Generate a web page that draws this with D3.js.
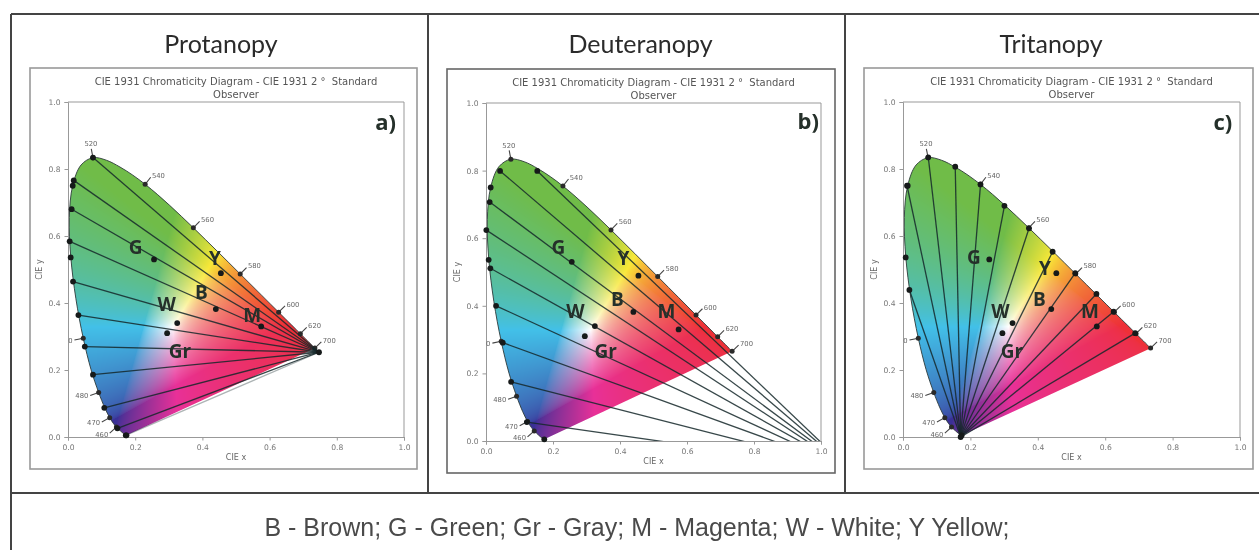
<!DOCTYPE html>
<html>
<head>
<meta charset="utf-8">
<style>
  html, body { margin: 0; padding: 0; background: #fff; overflow: hidden; }
  svg { display: block; }
  .heading { font-family: Lato, sans-serif; font-size: 25px; fill: #2b2b2b; text-anchor: middle; filter: blur(0.3px); }
  .fig-title { font-family: "DejaVu Sans", sans-serif; font-size: 10px; fill: #555; text-anchor: middle; }
  .axis-label { font-family: "DejaVu Sans", sans-serif; font-size: 8px; fill: #666; text-anchor: middle; }
  .axis text { font-family: "DejaVu Sans", sans-serif; font-size: 7.6px; fill: #777; }
  .axis path, .axis line { stroke: #999; stroke-width: 1; }
  .wave-label { font-family: "DejaVu Sans", sans-serif; font-size: 6.8px; fill: #666; }
  .color-label { font-family: "Open Sans", sans-serif; font-weight: 700; font-size: 19px; fill: #25302a; text-anchor: middle; dominant-baseline: central; }
  .panel-tag { font-family: "Open Sans", sans-serif; font-weight: 700; font-size: 22px; fill: #25302a; text-anchor: middle; dominant-baseline: central; }
  .legend { font-family: "Liberation Sans", sans-serif; font-size: 25px; fill: #4a4a4a; text-anchor: middle; filter: blur(0.3px); }
</style>
</head>
<body>
<div id="chart"></div>
<script src="https://cdn.jsdelivr.net/npm/d3@7"></script>
<script>
// CIE 1931 spectral locus, [wavelength, x, y]
var locus = [
  [380,.1741,.0050],[400,.1733,.0048],[420,.1714,.0051],[430,.1689,.0069],[440,.1644,.0109],
  [450,.1566,.0177],[455,.1510,.0227],[460,.1440,.0297],[465,.1355,.0399],[470,.1241,.0578],
  [475,.1096,.0868],[480,.0913,.1327],[485,.0687,.2007],[490,.0454,.2950],[495,.0235,.4127],
  [500,.0082,.5384],[505,.0039,.6548],[510,.0139,.7502],[515,.0389,.8120],[520,.0743,.8338],
  [525,.1142,.8262],[530,.1547,.8059],[535,.1929,.7816],[540,.2296,.7543],[545,.2658,.7243],
  [550,.3016,.6923],[555,.3373,.6589],[560,.3731,.6245],[565,.4087,.5896],[570,.4441,.5547],
  [575,.4788,.5202],[580,.5125,.4866],[585,.5448,.4544],[590,.5752,.4242],[595,.6029,.3965],
  [600,.6270,.3725],[605,.6482,.3514],[610,.6658,.3340],[615,.6801,.3197],[620,.6915,.3083],
  [630,.7079,.2920],[640,.7190,.2809],[650,.7260,.2740],[660,.7300,.2700],[680,.7334,.2666],
  [700,.7347,.2653]
];

var wave_marks  = [460, 470, 480, 490, 520, 540, 560, 580, 600, 620, 700];
var wave_texts  = ['460', '470', '480', '0', '520', '540', '560', '580', '600', '620', '700'];
var extra_dots  = [[.014, .75], [.008, .536], [.174, .005]];
var axis_ticks  = [0, .2, .4, .6, .8, 1];

var names       = ['Protanopy', 'Deuteranopy', 'Tritanopy'];
var tags        = ['a)', 'b)', 'c)'];
var color_names = ['G', 'Y', 'B', 'W', 'M', 'Gr'];
var color_xy    = [[.256, .53], [.455, .489], [.44, .382], [.325, .34], [.575, .33], [.295, .31]];

var legend_text = 'B - Brown; G - Green; Gr - Gray; M - Magenta; W - White; Y Yellow;';

var copunctal = [[.747, .253], [1.08, -.08], [.171, 0]];

var prot_starts = [[.0744,.834],[.017,.766],[.0108,.68],[.005,.584],[.015,.464],[.031,.364],[.05,.27],[.0744,.186],[.108,.087],[.147,.026],[.172,.005]];
var deut_starts = [[.153,.799],[.042,.799],[.011,.707],[.001,.624],[.013,.511],[.03,.4],[.05,.291],[.075,.175],[.122,.056]];
var trit_starts = [[.012,.75],[.075,.835],[.155,.807],[.23,.754],[.301,.69],[.374,.623],[.444,.553],[.511,.489],[.574,.427],[.625,.374],[.689,.31],[.019,.439]];

var prot_label_xy = [[.201,.566],[.4375,.535],[.397,.433],[.294,.397],[.548,.364],[.333,.257]];
var deut_label_xy = [[.216,.573],[.41,.542],[.392,.421],[.267,.386],[.539,.386],[.357,.266]];
var trit_label_xy = [[.21,.536],[.421,.504],[.405,.412],[.289,.377],[.555,.377],[.323,.257]];
var tag_xy        = [[.945,.943],[.962,.95],[.949,.944]];

// the printed figure looks like sRGB pushed through CMYK, these are the cube corners as they read in the picture
var corner_colors = {
  k: [40, 40, 50],    r: [238, 48, 56],  g: [112, 188, 72],  b: [58, 48, 150],
  c: [66, 192, 232],  m: [232, 48, 152], y: [248, 232, 56],  w: [255, 255, 255]
};

function chroma_rgb(x, y) {
  var X = x / y, Z = (1 - x - y) / y;
  var lin = [
     3.2406 * X - 1.5372 - 0.4986 * Z,
    -0.9689 * X + 1.8758 + 0.0415 * Z,
     0.0557 * X - 0.2040 + 1.0570 * Z
  ].map((v) => Math.max(v, 0));

  var m = d3.max(lin);
  var r = lin[0] / m, g = lin[1] / m, b = lin[2] / m;

  // ramps in the picture do not share one gamma: flat towards green/orange, steep towards blue/magenta
  var t = [
    Math.pow(r, 1 / (1.2 + .3 * b)),
    Math.pow(g, 1 / (1.2 + b * (1 - r))),
    Math.pow(b, 1 / (1.15 + 1.25 * r * (1 - g)))
  ];

  var c = corner_colors;
  return [0, 1, 2].map((i) => {
    var r0 = c.k[i] * (1 - t[0]) + c.r[i] * t[0];
    var r1 = c.g[i] * (1 - t[0]) + c.y[i] * t[0];
    var r2 = c.b[i] * (1 - t[0]) + c.m[i] * t[0];
    var r3 = c.c[i] * (1 - t[0]) + c.w[i] * t[0];
    var g0 = r0 * (1 - t[1]) + r1 * t[1];
    var g1 = r2 * (1 - t[1]) + r3 * t[1];
    return g0 * (1 - t[2]) + g1 * t[2];
  });
}

function color_field(x, y) {
  var w = Math.round(x.range()[1] - x.range()[0]);
  var h = Math.round(y.range()[0] - y.range()[1]);

  var canvas = document.createElement('canvas');
  canvas.width = w;
  canvas.height = h;

  var ctx = canvas.getContext('2d');
  var img = ctx.createImageData(w, h);

  for (var j = 0; j < h; j++) {
    for (var i = 0; i < w; i++) {
      var p = (j * w + i) * 4;
      var cx = x.invert(x.range()[0] + i + .5);
      var cy = Math.max(y.invert(y.range()[1] + j + .5), .001);
      var rgb = chroma_rgb(cx, cy);
      img.data[p] = rgb[0];
      img.data[p + 1] = rgb[1];
      img.data[p + 2] = rgb[2];
      img.data[p + 3] = 255;
    }
  }

  ctx.putImageData(img, 0, 0);
  return canvas.toDataURL();
}

var svg = d3.select('#chart').append('svg')
  .attr('width', 1259)
  .attr('height', 550);

var frame = svg.append('g')
  .attr('stroke', '#444')
  .attr('stroke-width', 2);

[[11, 14, 1259, 14], [11, 493, 1259, 493], [11, 14, 11, 550], [428, 14, 428, 493], [845, 14, 845, 493]].forEach((l) => {
  frame.append('line')
    .attr('x1', l[0]).attr('y1', l[1])
    .attr('x2', l[2]).attr('y2', l[3]);
});

svg.append('text')
  .attr('class', 'legend')
  .attr('x', 637)
  .attr('y', 536)
  .text(legend_text);

function panel_draw(o) {
  var x = d3.scaleLinear().domain([0, 1]).range([o.left, o.right]);
  var y = d3.scaleLinear().domain([0, 1]).range([o.bottom, o.top]);

  svg.append('text')
    .attr('class', 'heading')
    .attr('x', o.heading_x)
    .attr('y', 53)
    .text(o.name);

  var gph = svg.append('g')
    .style('filter', 'blur(0.6px)');

  gph.append('rect')
    .attr('x', o.box[0])
    .attr('y', o.box[1])
    .attr('width', o.box[2] - o.box[0])
    .attr('height', o.box[3] - o.box[1])
    .attr('fill', '#fff')
    .attr('stroke', o.box_color)
    .attr('stroke-width', 1.6);

  var cx = (o.left + o.right) / 2;

  gph.append('text').attr('class', 'fig-title').attr('x', cx).attr('y', o.top - 17)
    .text('CIE 1931 Chromaticity Diagram - CIE 1931 2 \u00b0\u00a0 Standard');
  gph.append('text').attr('class', 'fig-title').attr('x', cx).attr('y', o.top - 4)
    .text('Observer');

  gph.append('text').attr('class', 'axis-label').attr('x', cx).attr('y', o.bottom + 23)
    .text('CIE x');
  gph.append('text').attr('class', 'axis-label')
    .attr('transform', `translate(${ o.left - 26 },${ (o.top + o.bottom) / 2 }) rotate(-90)`)
    .text('CIE y');

  var line = d3.line().x((d) => x(d[0])).y((d) => y(d[1]));
  var smooth = d3.line().x((d) => x(d[0])).y((d) => y(d[1])).curve(d3.curveCatmullRom);
  var curve = locus.map((d) => [d[1], d[2]]);

  var clip_id = 'locus-' + o.id;
  var axes_id = 'axes-' + o.id;

  var defs = gph.append('defs');
  defs.append('clipPath').attr('id', clip_id)
    .append('path').attr('d', smooth(curve) + 'Z');
  defs.append('clipPath').attr('id', axes_id)
    .append('rect')
    .attr('x', x(0)).attr('y', y(1))
    .attr('width', x(1) - x(0)).attr('height', y(0) - y(1));

  gph.append('image')
    .attr('x', x(0))
    .attr('y', y(1))
    .attr('width', x(1) - x(0))
    .attr('height', y(0) - y(1))
    .attr('preserveAspectRatio', 'none')
    .attr('href', color_field(x, y))
    .attr('clip-path', `url(#${clip_id})`);

  gph.append('path')
    .attr('d', smooth(curve))
    .attr('fill', 'none')
    .attr('stroke', '#2c3a3a')
    .attr('stroke-width', .9);

  // axes, spines on all four sides
  var ax = d3.axisBottom(x).tickValues(axis_ticks).tickFormat(d3.format('.1f')).tickSize(3.5).tickPadding(4);
  var ay = d3.axisLeft(y).tickValues(axis_ticks).tickFormat(d3.format('.1f')).tickSize(3.5).tickPadding(4);

  gph.append('g').attr('class', 'axis').attr('transform', `translate(0,${o.bottom})`).call(ax);
  gph.append('g').attr('class', 'axis').attr('transform', `translate(${o.left},0)`).call(ay);

  gph.append('path')
    .attr('d', line([[0, 1], [1, 1], [1, 0]]))
    .attr('fill', 'none')
    .attr('stroke', '#999');

  // wavelength ticks, pointing out of the locus
  wave_marks.forEach((w, i) => {
    var k = locus.findIndex((d) => d[0] === w);
    var a = locus[Math.max(k - 1, 0)];
    var b = locus[Math.min(k + 1, locus.length - 1)];
    var px = x(locus[k][1]), py = y(locus[k][2]);
    var tx = x(b[1]) - x(a[1]), ty = y(b[2]) - y(a[2]);
    var len = Math.hypot(tx, ty);
    // walking up the wavelengths keeps the outside on the left
    var nx = ty / len, ny = -tx / len;

    if (w === 700) { nx = .72; ny = -.69; }

    gph.append('line')
      .attr('x1', px).attr('y1', py)
      .attr('x2', px + nx * 9).attr('y2', py + ny * 9)
      .attr('stroke', '#444')
      .attr('stroke-width', 1.1);

    gph.append('circle')
      .attr('cx', px).attr('cy', py).attr('r', 2.5)
      .attr('fill', '#2a2a2a');

    gph.append('text')
      .attr('class', 'wave-label')
      .attr('x', px + nx * 11)
      .attr('y', py + ny * 11 - (Math.abs(nx) < .4 ? 3 : 0))
      .attr('dy', '.32em')
      .attr('text-anchor', nx > .4 ? 'start' : (nx < -.4 ? 'end' : 'middle'))
      .text(wave_texts[i]);
  });

  // confusion lines, the protan one along the purple edge is barely there
  var lines = gph.append('g').attr('clip-path', `url(#${axes_id})`);

  o.starts.forEach((s, i) => {
    lines.append('path')
      .attr('d', line([s, o.copunctal]))
      .attr('stroke', '#15282a')
      .attr('stroke-opacity', i === o.faint ? .35 : .85)
      .attr('stroke-width', 1.3);
  });

  var dots = o.starts.concat(extra_dots).concat(color_xy);

  if (o.show_copunctal) dots = dots.concat([o.copunctal]);

  gph.selectAll('circle.dot')
    .data(dots)
    .enter().append('circle')
    .attr('class', 'dot')
    .attr('cx', (d) => x(d[0]))
    .attr('cy', (d) => y(d[1]))
    .attr('r', 2.9)
    .attr('fill', '#161a1a');

  gph.selectAll('text.color-label')
    .data(color_names)
    .enter().append('text')
    .attr('class', 'color-label')
    .attr('x', (d, i) => x(o.label_xy[i][0]))
    .attr('y', (d, i) => y(o.label_xy[i][1]))
    .text((d) => d);

  gph.append('text')
    .attr('class', 'panel-tag')
    .attr('x', x(o.tag[0]))
    .attr('y', y(o.tag[1]))
    .text(o.tag_text);
}

panel_draw({
  id: 'a', name: names[0], heading_x: 221, box: [30, 68, 417, 469], box_color: '#999',
  left: 68, right: 404, top: 102, bottom: 437,
  starts: prot_starts, copunctal: copunctal[0], show_copunctal: true, faint: 10,
  label_xy: prot_label_xy, tag: tag_xy[0], tag_text: tags[0]
});

panel_draw({
  id: 'b', name: names[1], heading_x: 640.5, box: [447, 69, 835, 473], box_color: '#666',
  left: 486, right: 821, top: 103, bottom: 441,
  starts: deut_starts, copunctal: copunctal[1], show_copunctal: false,
  label_xy: deut_label_xy, tag: tag_xy[1], tag_text: tags[1]
});

panel_draw({
  id: 'c', name: names[2], heading_x: 1051, box: [864, 68, 1253, 469], box_color: '#999',
  left: 903, right: 1240, top: 102, bottom: 437,
  starts: trit_starts, copunctal: copunctal[2], show_copunctal: true,
  label_xy: trit_label_xy, tag: tag_xy[2], tag_text: tags[2]
});
</script>
</body>
</html>
